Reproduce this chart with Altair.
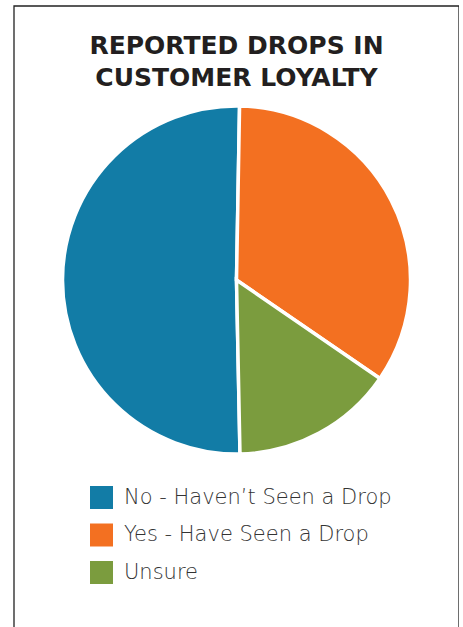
import altair as alt
import pandas as pd

categories = ["No - Haven\u2019t Seen a Drop", "Yes - Have Seen a Drop", "Unsure"]
values = [50.6, 34.3, 15.1]
order = [1, 2, 3]
colors = ["#127ca6", "#f37021", "#7b9c3e"]
title_lines = ["REPORTED DROPS IN", "CUSTOMER LOYALTY"]

df = pd.DataFrame({"category": categories, "value": values, "order": order})

W, H = 445, 640
start = 3.1215
pie = alt.Chart(df).mark_arc(
    outerRadius=174, stroke="white", strokeWidth=3.5, y=274
).encode(
    theta=alt.Theta("value:Q", stack=True, scale=alt.Scale(range=[start, start + 6.283185])),
    color=alt.Color(
        "category:N",
        scale=alt.Scale(domain=categories, range=colors),
        sort=categories,
        legend=alt.Legend(
            title=None, orient="none", legendX=76, legendY=480,
            symbolType="square", symbolSize=529, symbolStrokeWidth=0,
            labelFont="DejaVu Sans", labelFontSize=21, labelFontWeight=200,
            labelColor="#333333", labelOffset=11, rowPadding=14.5,
            labelLimit=400,
        ),
    ),
    order=alt.Order("order:Q"),
)

border = alt.Chart(pd.DataFrame({"a": [0]})).mark_rect(
    fill="transparent", stroke="#222222", strokeWidth=1.3
).encode(
    x=alt.value(0), x2=alt.value(W), y=alt.value(0), y2=alt.value(H)
)

chart = alt.layer(border, pie).properties(
    width=W, height=H,
    padding={"left": 14, "top": 6, "right": 0, "bottom": 0},
    autosize="none",
    title=alt.TitleParams(
        text=title_lines,
        font="DejaVu Sans", fontSize=25, fontWeight="bold", color="#231f20",
        anchor="middle", frame="group", baseline="top", dy=86, lineHeight=32,
        offset=0,
    ),
).configure_view(stroke=None)

chart.save("out.html", embed_options={"renderer": "svg", "actions": False})
